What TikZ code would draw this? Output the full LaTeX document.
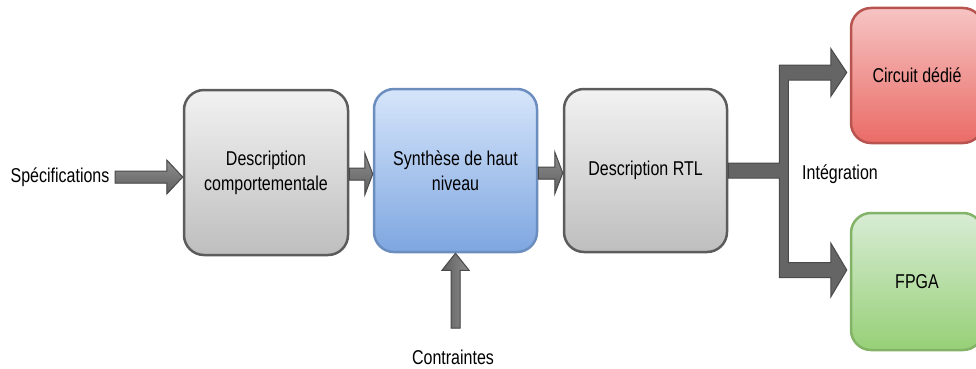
\documentclass[tikz,border=0pt]{standalone}
\usepackage{fontspec}
\setmainfont[FakeStretch=0.8]{Liberation Sans}
\usetikzlibrary{calc,positioning}
\definecolor{graytop}{HTML}{F2F2F2}
\definecolor{graybot}{HTML}{BEBEBE}
\definecolor{grayedge}{HTML}{5C5C5C}
\definecolor{bluetop}{HTML}{D6E5FA}
\definecolor{bluebot}{HTML}{7EA6E0}
\definecolor{blueedge}{HTML}{6C8EBF}
\definecolor{redtop}{HTML}{F6C4C3}
\definecolor{redbot}{HTML}{EA6B66}
\definecolor{rededge}{HTML}{B85450}
\definecolor{greentop}{HTML}{D8ECD5}
\definecolor{greenbot}{HTML}{97D077}
\definecolor{greenedge}{HTML}{82B366}
\definecolor{arrowtop}{HTML}{8E8E8E}
\definecolor{arrowbot}{HTML}{5E5E5E}
\definecolor{arrowedge}{HTML}{4A4A4A}

% wide arrow to the right: start, tip, half shaft, half head, head length
\newcommand{\flexright}[5]{%
  \filldraw[flex] let \p1=(#1), \p2=(#2) in
    (\x1,\y1+#3) -- (\x2-#5,\y1+#3) -- (\x2-#5,\y1+#4) -- (\x2,\y1)
    -- (\x2-#5,\y1-#4) -- (\x2-#5,\y1-#3) -- (\x1,\y1-#3) -- cycle;}
% same, pointing up
\newcommand{\flexup}[5]{%
  \filldraw[flexv] let \p1=(#1), \p2=(#2) in
    (\x1+#3,\y1) -- (\x1+#3,\y2-#5) -- (\x1+#4,\y2-#5) -- (\x1,\y2)
    -- (\x1-#4,\y2-#5) -- (\x1-#3,\y2-#5) -- (\x1-#3,\y1) -- cycle;}

\begin{document}
\begin{tikzpicture}[x=1pt,y=-1pt,
	font=\fontsize{20}{25}\selectfont,
	block/.style={rounded corners=20pt, line width=2.5pt, align=center, inner sep=0pt},
	graybox/.style={block, draw=grayedge, top color=graytop, bottom color=graybot},
	bluebox/.style={block, draw=blueedge, top color=bluetop, bottom color=bluebot},
	redbox/.style={block, draw=rededge, top color=redtop, bottom color=redbot},
	greenbox/.style={block, draw=greenedge, top color=greentop, bottom color=greenbot},
	label/.style={inner sep=1pt},
	flex/.style={draw=arrowedge, line width=1pt, top color=arrowtop, bottom color=arrowbot},
	flexv/.style={draw=arrowedge, line width=1pt, left color=arrowbot, right color=arrowtop},
	tee/.style={draw=arrowedge, line width=1pt, fill=arrowbot!85!arrowtop}]
	\useasboundingbox (0,0) rectangle (976,369);

	% blocks
	\node[graybox, minimum width=164pt, minimum height=165pt] (comp) at (266,172.5) {Description\\comportementale};
	\node[bluebox, minimum width=163pt, minimum height=163pt] (hls) at (455.5,170.5) {Synthèse de haut\\niveau};
	\node[graybox, minimum width=163pt, minimum height=163pt] (rtl) at (645.5,170.5) {Description RTL};
	\node[redbox, minimum width=132pt, minimum height=135pt] (asic) at (917,75.5) {Circuit dédié};
	\node[greenbox, minimum width=132pt, minimum height=137pt] (fpga) at (917,281.5) {FPGA};

	% free texts
	\node[label] (spec) at (60,177) {Spécifications};
	\node[label] (contr) at (453,357) {Contraintes};
	\node[label] (integ) at (840,174) {Intégration};

	\coordinate (sin) at (115,177);
	\coordinate (cin) at (455.5,328);

	% arrows
	\flexright{sin}{comp.west |- sin}{6pt}{17pt}{16pt}
	\flexright{comp.east |- 0,174}{hls.west |- 0,174}{6pt}{21pt}{8pt}
	\flexright{hls.east |- 0,173}{rtl.west |- 0,173}{6pt}{21pt}{8pt}
	\flexup{cin}{hls.south}{4.5pt}{13.5pt}{17pt}

	% RTL towards both targets
	\filldraw[tee] let \p1=(rtl.east), \p2=(asic.west), \p3=(fpga.west),
		\n1={\x1+51pt}, \n2={\x1+60pt}, \n3={\x2-19pt}, \n4={\x2-3pt},
		\n5={\y2+3pt}, \n6={\y3+11.5pt} in
		(\x1,\y1+7.5pt) -- (\n1,\y1+7.5pt) -- (\n1,\n5+7.5pt) -- (\n3,\n5+7.5pt)
		-- (\n3,\n5+24pt) -- (\n4,\n5) -- (\n3,\n5-24pt) -- (\n3,\n5-7.5pt)
		-- (\n2,\n5-7.5pt) -- (\n2,\n6+7.5pt) -- (\n3,\n6+7.5pt) -- (\n3,\n6+27pt)
		-- (\n4,\n6) -- (\n3,\n6-27pt) -- (\n3,\n6-7.5pt) -- (\n1,\n6-7.5pt)
		-- (\n1,\y1-7.5pt) -- (\x1,\y1-7.5pt) -- cycle;
\end{tikzpicture}
\end{document}
